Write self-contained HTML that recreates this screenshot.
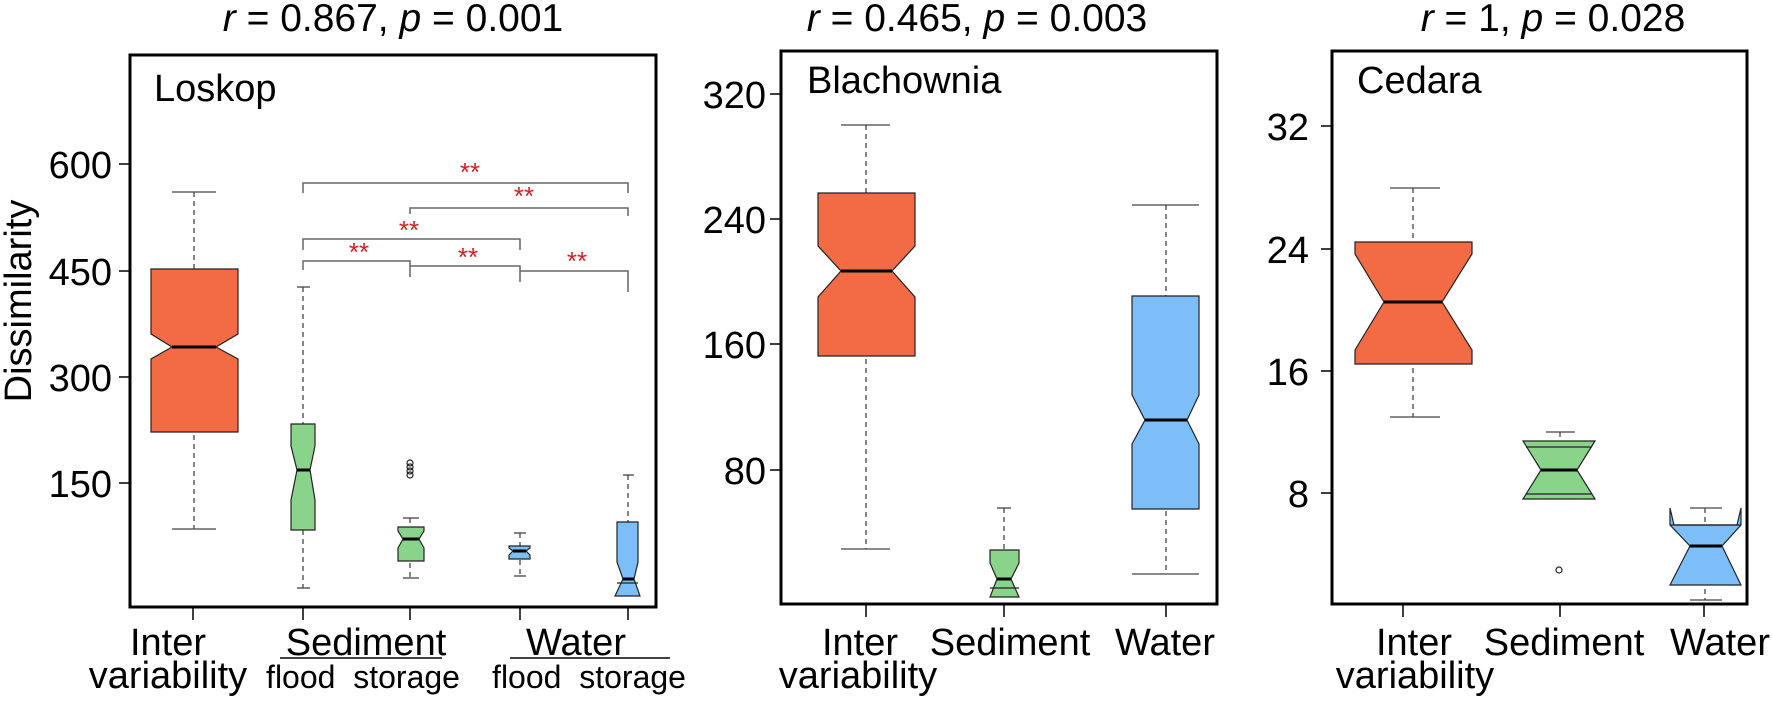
<!DOCTYPE html>
<html><head><meta charset="utf-8"><style>
html,body{margin:0;padding:0;background:#fff}
svg text{font-family:"Liberation Sans Narrow","Liberation Sans",sans-serif;fill:#000}
</style></head><body>
<svg width="1772" height="700" viewBox="0 0 1772 700" xmlns="http://www.w3.org/2000/svg">
<rect width="1772" height="700" fill="#fff"/>
<g font-size="39" text-anchor="middle">
<text x="393" y="31"><tspan font-style="italic">r</tspan> = 0.867, <tspan font-style="italic">p</tspan> = 0.001</text>
<text x="977" y="31"><tspan font-style="italic">r</tspan> = 0.465, <tspan font-style="italic">p</tspan> = 0.003</text>
<text x="1553" y="31"><tspan font-style="italic">r</tspan> = 1, <tspan font-style="italic">p</tspan> = 0.028</text>
</g>
<g fill="none" stroke="#000" stroke-width="3">
<rect x="130" y="55" width="526" height="552"/>
<rect x="781" y="51" width="436" height="553"/>
<rect x="1332" y="51" width="415" height="553"/>
</g>
<g stroke="#000" stroke-width="1.5">
<line x1="119" y1="164" x2="130" y2="164"/><line x1="119" y1="271" x2="130" y2="271"/><line x1="119" y1="377" x2="130" y2="377"/><line x1="119" y1="483" x2="130" y2="483"/>
<line x1="770" y1="94" x2="781" y2="94"/><line x1="770" y1="219" x2="781" y2="219"/><line x1="770" y1="344" x2="781" y2="344"/><line x1="770" y1="470" x2="781" y2="470"/>
<line x1="1321" y1="126" x2="1332" y2="126"/><line x1="1321" y1="249" x2="1332" y2="249"/><line x1="1321" y1="371" x2="1332" y2="371"/><line x1="1321" y1="493" x2="1332" y2="493"/>
<line x1="193" y1="607" x2="193" y2="620"/><line x1="303" y1="607" x2="303" y2="620"/><line x1="410" y1="607" x2="410" y2="620"/><line x1="520" y1="607" x2="520" y2="620"/><line x1="628" y1="607" x2="628" y2="620"/>
<line x1="866" y1="604" x2="866" y2="617"/><line x1="1004" y1="604" x2="1004" y2="617"/><line x1="1166" y1="604" x2="1166" y2="617"/>
<line x1="1403" y1="604" x2="1403" y2="617"/><line x1="1560" y1="604" x2="1560" y2="617"/><line x1="1704" y1="604" x2="1704" y2="617"/>
</g>
<g font-size="38" text-anchor="end">
<text x="112" y="178">600</text><text x="112" y="285">450</text><text x="112" y="391">300</text><text x="112" y="497">150</text>
<text x="766" y="108">320</text><text x="766" y="233">240</text><text x="766" y="358">160</text><text x="766" y="484">80</text>
<text x="1309" y="140">32</text><text x="1309" y="263">24</text><text x="1309" y="385">16</text><text x="1309" y="507">8</text>
</g>
<text x="0" y="0" font-size="38" text-anchor="middle" transform="translate(31,301) rotate(-90)">Dissimilarity</text>
<g font-size="38">
<text x="154" y="101">Loskop</text>
<text x="807" y="93">Blachownia</text>
<text x="1357" y="93">Cedara</text>
</g>
<g font-size="38" text-anchor="middle">
<text x="168" y="655">Inter</text><text x="168" y="688">variability</text>
<text x="366" y="655">Sediment</text><text x="576" y="655">Water</text>
<text x="860" y="655">Inter</text><text x="858" y="688">variability</text>
<text x="1010" y="655">Sediment</text><text x="1165" y="655">Water</text>
<text x="1414" y="655">Inter</text><text x="1415" y="688">variability</text>
<text x="1564" y="655">Sediment</text><text x="1720" y="655">Water</text>
</g>
<g font-size="32" text-anchor="middle">
<text x="363" y="688">flood&#160;&#160;storage</text>
<text x="589" y="688">flood&#160;&#160;storage</text>
</g>
<g stroke="#000" stroke-width="1.5">
<line x1="280" y1="658" x2="442" y2="658"/><line x1="510" y1="658" x2="670" y2="658"/>
</g>
<g stroke="#444" stroke-width="1.3" fill="none">
<g stroke-dasharray="5,4">
<line x1="194" y1="192" x2="194" y2="529"/>
<line x1="303" y1="287" x2="303" y2="588"/>
<line x1="410" y1="518" x2="410" y2="578"/>
<line x1="520" y1="533" x2="520" y2="576"/>
<line x1="628" y1="475" x2="628" y2="588"/>
<line x1="866" y1="125" x2="866" y2="549"/>
<line x1="1004" y1="508" x2="1004" y2="589"/>
<line x1="1166" y1="205" x2="1166" y2="574"/>
<line x1="1413" y1="188" x2="1413" y2="417"/>
<line x1="1560" y1="432" x2="1560" y2="447"/>
<line x1="1705" y1="508" x2="1705" y2="600"/>
</g>
<line x1="172" y1="192" x2="216" y2="192"/><line x1="172" y1="529" x2="216" y2="529"/>
<line x1="297" y1="287" x2="310" y2="287"/><line x1="297" y1="588" x2="310" y2="588"/>
<line x1="403" y1="518" x2="419" y2="518"/><line x1="403" y1="578" x2="419" y2="578"/>
<line x1="514" y1="533" x2="526" y2="533"/><line x1="514" y1="576" x2="526" y2="576"/>
<line x1="623" y1="475" x2="634" y2="475"/><line x1="623" y1="588" x2="634" y2="588"/>
<line x1="841" y1="125" x2="890" y2="125"/><line x1="841" y1="549" x2="890" y2="549"/>
<line x1="997" y1="508" x2="1011" y2="508"/><line x1="997" y1="589" x2="1011" y2="589"/>
<line x1="1132" y1="205" x2="1199" y2="205"/><line x1="1132" y1="574" x2="1199" y2="574"/>
<line x1="1390" y1="188" x2="1440" y2="188"/><line x1="1390" y1="417" x2="1440" y2="417"/>
<line x1="1546" y1="432" x2="1575" y2="432"/>
<line x1="1690" y1="508" x2="1722" y2="508"/><line x1="1690" y1="600" x2="1722" y2="600"/>
</g>
<g stroke="#222" stroke-width="1.2">
<polygon fill="#f26b45" points="151,269 238,269 238,334 216,347 238,359 238,432 151,432 151,359 172,347 151,334"/>
<polygon fill="#8ad38a" points="291,424 315,424 315,446 310,470 315,500 315,530 291,530 291,500 297,470 291,446"/>
<polygon fill="#8ad38a" points="398,527 424,527 424,531 419,539 424,548 424,561 398,561 398,548 403,539 398,531"/>
<polygon fill="#7bbef8" points="509,546 530,546 530,548 526,551 530,555 530,559 509,559 509,555 513,551 509,548"/>
<polygon fill="#7bbef8" points="617,522 638,522 638,562 634,579 640,596 615,596 623,579 617,562"/>
<line x1="617" y1="583" x2="638" y2="583"/>
<polygon fill="#f26b45" points="818,193 915,193 915,246 892,271 915,297 915,356 818,356 818,297 841,271 818,246"/>
<polygon fill="#8ad38a" points="990,550 1019,550 1019,563 1011,579 1019,597 990,597 997,579 990,563"/>
<line x1="990" y1="588" x2="1019" y2="588"/>
<polygon fill="#7bbef8" points="1132,296 1199,296 1199,395 1187,420 1199,444 1199,509 1132,509 1132,444 1145,420 1132,395"/>
<polygon fill="#f26b45" points="1355,242 1472,242 1472,254 1442,302 1472,350 1472,364 1355,364 1355,350 1384,302 1355,254"/>
<polygon fill="#8ad38a" points="1523,441 1595,441 1577,470 1595,499 1523,499 1541,470"/>
<line x1="1526" y1="447" x2="1592" y2="447"/><line x1="1526" y1="494" x2="1592" y2="494"/>
<polygon fill="#7bbef8" points="1670,508 1670,525 1690,546 1670,585 1741,585 1722,546 1741,525 1741,508 1737,525 1674,525"/>
<line x1="1670" y1="525" x2="1741" y2="525"/>
</g>
<g stroke="#000" stroke-width="3">
<line x1="172" y1="347" x2="216" y2="347"/>
<line x1="297" y1="470" x2="310" y2="470"/>
<line x1="403" y1="539" x2="419" y2="539"/>
<line x1="513" y1="551" x2="526" y2="551"/>
<line x1="623" y1="579" x2="634" y2="579"/>
<line x1="841" y1="271" x2="892" y2="271"/>
<line x1="997" y1="579" x2="1011" y2="579"/>
<line x1="1145" y1="420" x2="1187" y2="420"/>
<line x1="1384" y1="302" x2="1442" y2="302"/>
<line x1="1541" y1="470" x2="1577" y2="470"/>
<line x1="1690" y1="546" x2="1722" y2="546"/>
</g>
<g fill="none" stroke="#222" stroke-width="1.2">
<circle cx="410" cy="463" r="3"/><circle cx="410" cy="467" r="3"/><circle cx="410" cy="471" r="3"/><circle cx="410" cy="475" r="3"/>
<circle cx="1559" cy="570" r="3"/>
</g>
<g stroke="#666" stroke-width="1.5" fill="none">
<polyline points="303,193 303,183 628,183 628,193"/>
<polyline points="410,214 410,208 628,208 628,216"/>
<polyline points="303,250 303,239 520,239 520,250"/>
<polyline points="303,270 303,261 410,261 410,277"/>
<polyline points="410,266 520,266 520,282"/>
<polyline points="520,271 628,271 628,292"/>
</g>
<g font-size="26" text-anchor="middle">
<text x="470" y="181" style="fill:#d42020;font-family:'Liberation Sans',sans-serif">**</text>
<text x="524" y="205" style="fill:#d42020;font-family:'Liberation Sans',sans-serif">**</text>
<text x="409" y="239" style="fill:#d42020;font-family:'Liberation Sans',sans-serif">**</text>
<text x="359" y="261" style="fill:#d42020;font-family:'Liberation Sans',sans-serif">**</text>
<text x="468" y="266" style="fill:#d42020;font-family:'Liberation Sans',sans-serif">**</text>
<text x="577" y="270" style="fill:#d42020;font-family:'Liberation Sans',sans-serif">**</text>
</g>
</svg>
</body></html>
